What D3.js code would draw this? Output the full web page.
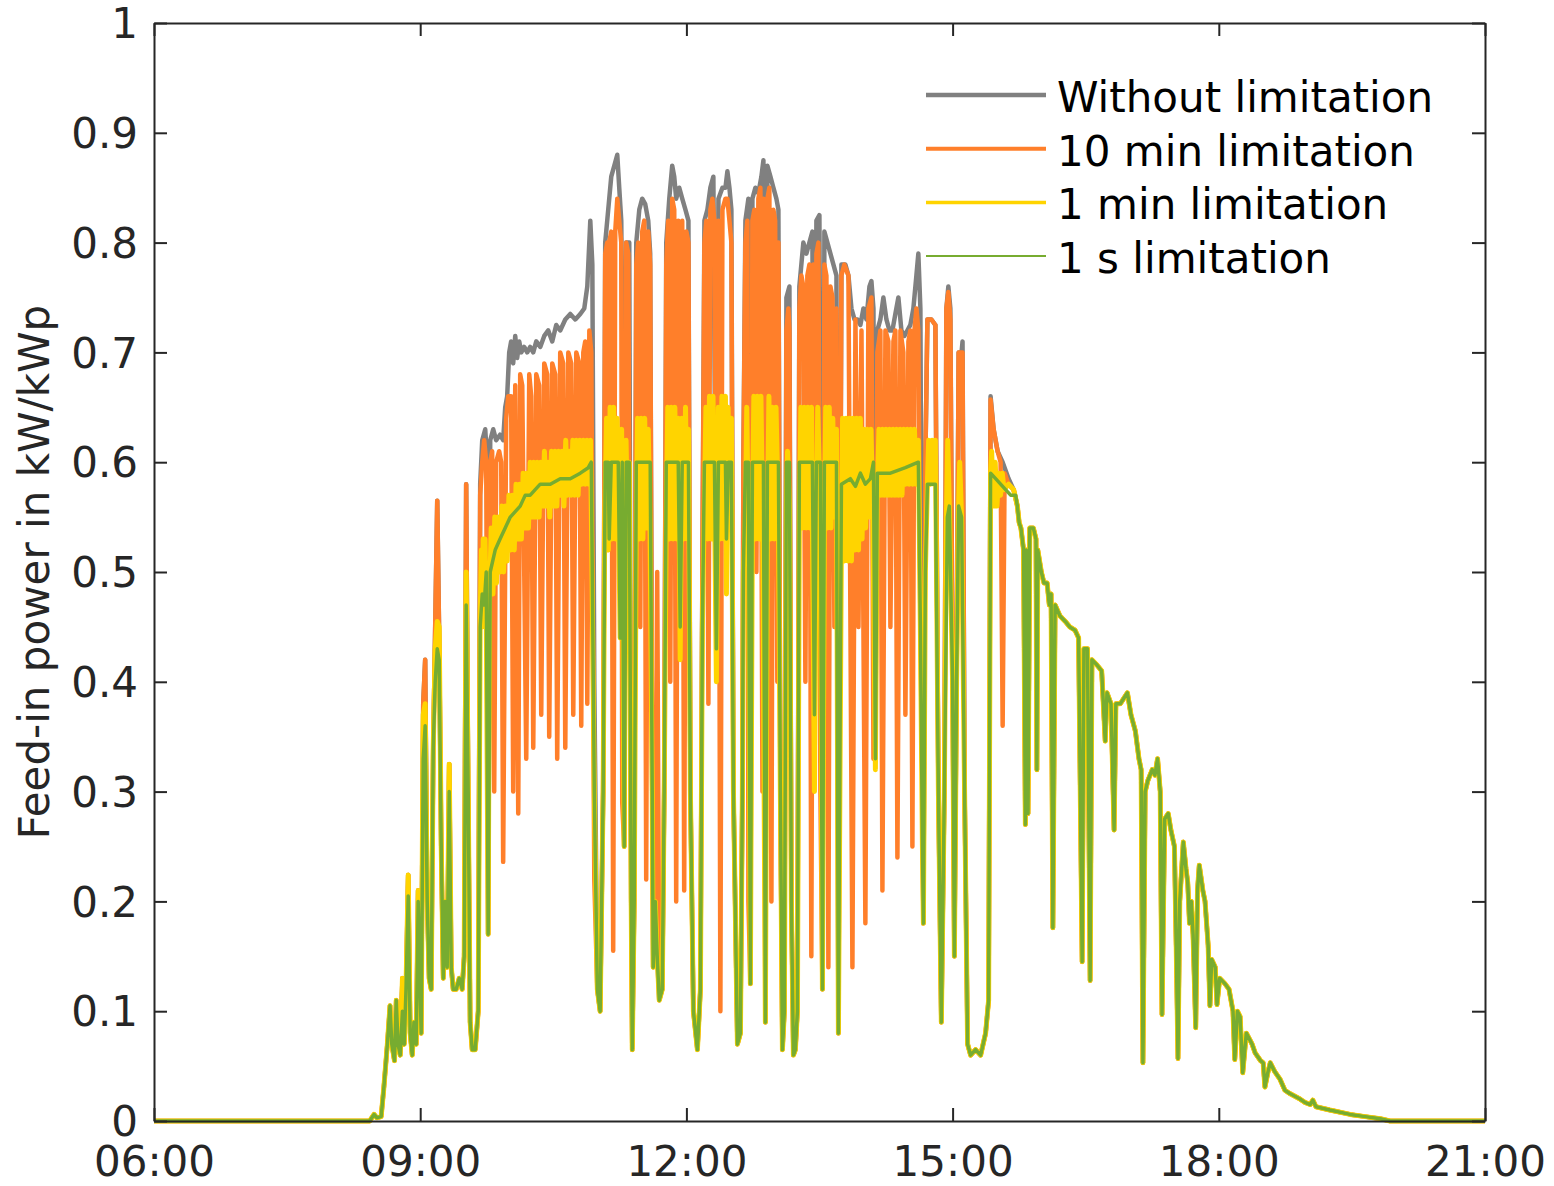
<!DOCTYPE html>
<html>
<head>
<meta charset="utf-8">
<script src="https://cdn.jsdelivr.net/npm/d3@7"></script>
<style>
  body { margin: 0; background: #fff; }
  svg { display: block; }
  text { font-family: "DejaVu Sans", Verdana, sans-serif; }
</style>
</head>
<body>
<svg id="chart" width="1554" height="1186"></svg>
<script>
// --- tick labels ---
const xTickHours = [6, 9, 12, 15, 18, 21];
const xTickLabels = ["06:00", "09:00", "12:00", "15:00", "18:00", "21:00"];
const yTickValues = [0, 0.1, 0.2, 0.3, 0.4, 0.5, 0.6, 0.7, 0.8, 0.9, 1];
const yTickLabels = ["0", "0.1", "0.2", "0.3", "0.4", "0.5", "0.6", "0.7", "0.8", "0.9", "1"];
const seriesNames = ["Without limitation", "10 min limitation", "1 min limitation", "1 s limitation"];

// --- readings [hour, kW/kWp] ---
// night / dawn, identical for all four curves
const dawn = [[6, 0], [8.43, 0], [8.48, 0.006], [8.51, 0.003], [8.56, 0.004]];

// morning ramp (without limitation and 10 min are the same here)
const morningUnlimited = [[8.59,0.03],[8.63,0.07],[8.66,0.105],[8.68,0.07],[8.71,0.055],[8.73,0.11],[8.75,0.07],[8.775,0.06],[8.80,0.13],[8.82,0.07],[8.84,0.12],[8.865,0.224],[8.887,0.08],[8.91,0.06],[8.93,0.09],[8.955,0.07],[8.977,0.21],[9.011,0.08],[9.034,0.38],[9.056,0.42],[9.079,0.2],[9.101,0.13],[9.124,0.12],[9.147,0.34],[9.169,0.45],[9.192,0.565],[9.214,0.44],[9.237,0.25],[9.26,0.13],[9.282,0.2],[9.304,0.14],[9.327,0.325],[9.35,0.14],[9.372,0.12],[9.406,0.12],[9.44,0.13],[9.473,0.12],[9.496,0.15],[9.518,0.58],[9.541,0.3],[9.563,0.09],[9.586,0.065],[9.62,0.065]];
const morningOneMin = [[8.59,0.03],[8.63,0.07],[8.66,0.105],[8.68,0.07],[8.71,0.055],[8.73,0.11],[8.75,0.07],[8.775,0.06],[8.80,0.13],[8.82,0.07],[8.84,0.12],[8.865,0.224],[8.887,0.08],[8.91,0.06],[8.93,0.09],[8.955,0.07],[8.977,0.21],[9.011,0.08],[9.034,0.37],[9.056,0.38],[9.079,0.2],[9.101,0.13],[9.124,0.12],[9.147,0.34],[9.169,0.43],[9.192,0.455],[9.214,0.45],[9.237,0.25],[9.26,0.13],[9.282,0.2],[9.304,0.14],[9.327,0.325],[9.35,0.14],[9.372,0.12],[9.406,0.12],[9.44,0.13],[9.473,0.12],[9.496,0.15],[9.518,0.5],[9.541,0.3],[9.563,0.09],[9.586,0.065],[9.62,0.065]];
const morningOneSec = [[8.59,0.03],[8.63,0.07],[8.66,0.105],[8.68,0.07],[8.71,0.055],[8.73,0.11],[8.75,0.07],[8.775,0.06],[8.80,0.1],[8.82,0.07],[8.84,0.12],[8.865,0.205],[8.887,0.08],[8.91,0.06],[8.93,0.09],[8.955,0.07],[8.977,0.2],[9.011,0.08],[9.034,0.33],[9.056,0.36],[9.079,0.2],[9.101,0.13],[9.124,0.12],[9.147,0.34],[9.169,0.4],[9.192,0.43],[9.214,0.42],[9.237,0.25],[9.26,0.13],[9.282,0.2],[9.304,0.14],[9.327,0.3],[9.35,0.14],[9.372,0.12],[9.406,0.12],[9.44,0.13],[9.473,0.12],[9.496,0.15],[9.518,0.47],[9.541,0.3],[9.563,0.09],[9.586,0.065],[9.62,0.065]];

// midday, without limitation
const middayWithout = [[9.654,0.1],[9.676,0.58],[9.699,0.62],[9.733,0.63],[9.755,0.6],[9.766,0.17],[9.789,0.62],[9.823,0.63],[9.856,0.62],[9.90,0.625],[9.935,0.62],[9.958,0.65],[9.98,0.66],[10.003,0.7],[10.025,0.71],[10.048,0.69],[10.071,0.715],[10.093,0.695],[10.116,0.71],[10.139,0.7],[10.172,0.705],[10.206,0.7],[10.24,0.705],[10.274,0.7],[10.308,0.71],[10.353,0.705],[10.398,0.715],[10.443,0.72],[10.488,0.71],[10.533,0.725],[10.578,0.72],[10.635,0.73],[10.691,0.735],[10.748,0.73],[10.804,0.735],[10.849,0.74],[10.883,0.76],[10.917,0.82],[10.94,0.78],[10.962,0.4],[10.996,0.12],[11.028,0.1],[11.062,0.3],
  [11.085,0.8],[11.119,0.83],[11.153,0.86],[11.187,0.87],[11.221,0.88],[11.243,0.85],[11.266,0.82],[11.288,0.6],[11.299,0.25],[11.322,0.8],[11.356,0.8],[11.378,0.2],[11.39,0.065],[11.412,0.2],[11.435,0.8],[11.469,0.83],[11.502,0.84],[11.536,0.835],[11.57,0.82],[11.592,0.79],[11.615,0.3],[11.626,0.14],[11.649,0.2],[11.671,0.15],[11.694,0.11],[11.728,0.12],[11.75,0.3],
  [11.773,0.8],[11.807,0.84],[11.84,0.87],[11.863,0.86],[11.885,0.84],[11.919,0.85],[11.953,0.84],[11.989,0.83],[12.023,0.82],[12.045,0.3],[12.079,0.1],[12.124,0.065],[12.158,0.12],[12.18,0.5],
  [12.203,0.82],[12.237,0.83],[12.27,0.85],[12.304,0.86],[12.338,0.43],[12.361,0.84],[12.406,0.85],[12.44,0.85],[12.462,0.865],[12.485,0.85],[12.507,0.83],[12.53,0.3],[12.575,0.07],[12.609,0.08],[12.631,0.3],[12.642,0.6],
  [12.665,0.82],[12.699,0.84],[12.721,0.125],[12.744,0.84],[12.778,0.85],[12.811,0.845],[12.845,0.86],[12.868,0.875],[12.89,0.09],[12.913,0.87],[12.947,0.86],[12.98,0.85],[13.014,0.84],[13.037,0.83],[13.059,0.3],[13.082,0.065],[13.104,0.1],
  [13.127,0.75],[13.161,0.76],[13.183,0.2],[13.206,0.06],[13.228,0.065],[13.251,0.1],
  [13.273,0.76],[13.318,0.8],[13.352,0.79],[13.386,0.8],[13.42,0.81],[13.443,0.37],[13.465,0.82],[13.499,0.825],[13.533,0.12],[13.555,0.81],[13.589,0.8],[13.623,0.79],[13.657,0.78],[13.691,0.77],[13.713,0.08],
  [13.747,0.78],[13.792,0.78],[13.826,0.77],[13.86,0.74],[13.894,0.73],[13.928,0.73],[13.961,0.725],[13.995,0.74],[14.029,0.73],[14.063,0.76],[14.085,0.765],[14.108,0.74],[14.13,0.33],[14.152,0.72],[14.186,0.73],[14.22,0.75],[14.254,0.73],[14.288,0.72],[14.322,0.72],[14.355,0.735],[14.389,0.75],[14.423,0.72],[14.457,0.715],[14.49,0.72],[14.524,0.725],[14.558,0.74],[14.592,0.77],[14.614,0.79],[14.637,0.74],[14.66,0.3],[14.671,0.18],[14.693,0.6],
  [14.716,0.73],[14.761,0.73],[14.806,0.725],[14.84,0.3],[14.873,0.09],[14.907,0.3],[14.93,0.74],[14.952,0.76],[14.975,0.74],[15.0,0.4],[15.02,0.15],[15.045,0.4],[15.068,0.7],[15.101,0.7],[15.112,0.71],[15.135,0.3],[15.169,0.07],[15.203,0.06],[15.259,0.065],[15.316,0.06],[15.372,0.08],[15.406,0.11],
  [15.428,0.66],[15.462,0.63],[15.507,0.61],[15.564,0.6],[15.631,0.585],[15.688,0.575]];

// midday, 10 min limitation
const middayTenMin = [[9.654,0.1],[9.676,0.57],[9.699,0.6],[9.721,0.62],[9.744,0.6],[9.766,0.17],[9.789,0.6],[9.811,0.61],[9.834,0.3],[9.856,0.6],[9.89,0.61],[9.913,0.6],[9.935,0.236],[9.969,0.64],[9.992,0.66],[10.025,0.66],[10.048,0.3],[10.071,0.67],[10.105,0.28],[10.127,0.68],[10.15,0.67],[10.195,0.33],[10.229,0.68],[10.251,0.66],[10.274,0.34],[10.308,0.68],[10.341,0.67],[10.364,0.37],[10.398,0.69],[10.432,0.68],[10.454,0.35],[10.488,0.69],[10.522,0.68],[10.544,0.33],[10.578,0.7],[10.612,0.69],[10.635,0.34],[10.669,0.7],[10.702,0.69],[10.725,0.37],[10.759,0.7],[10.793,0.69],[10.815,0.36],[10.838,0.7],[10.86,0.71],[10.883,0.38],[10.906,0.72],[10.928,0.7],[10.962,0.22],[10.996,0.12],[11.028,0.1],[11.062,0.3],
  [11.085,0.79],[11.108,0.8],[11.119,0.52],[11.13,0.8],[11.153,0.81],[11.175,0.155],[11.198,0.81],[11.221,0.84],[11.243,0.82],[11.266,0.8],[11.277,0.29],[11.299,0.25],[11.322,0.8],[11.345,0.79],[11.378,0.2],[11.39,0.065],[11.412,0.2],
  [11.435,0.78],[11.457,0.8],[11.48,0.45],[11.502,0.81],[11.525,0.82],[11.547,0.22],[11.57,0.81],[11.592,0.78],[11.615,0.3],[11.626,0.14],[11.649,0.2],[11.671,0.5],[11.694,0.11],[11.728,0.12],[11.75,0.3],
  [11.773,0.78],[11.795,0.82],[11.818,0.4],[11.84,0.84],[11.863,0.83],[11.885,0.2],[11.908,0.82],[11.93,0.45],[11.953,0.82],[11.975,0.21],[12.0,0.81],[12.023,0.8],[12.045,0.3],[12.079,0.1],[12.124,0.065],[12.158,0.12],[12.18,0.5],
  [12.203,0.8],[12.225,0.82],[12.248,0.38],[12.27,0.83],[12.293,0.84],[12.316,0.82],[12.338,0.43],[12.361,0.82],[12.383,0.1],[12.406,0.83],[12.44,0.84],[12.462,0.84],[12.485,0.82],[12.507,0.8],[12.53,0.3],[12.575,0.07],[12.609,0.08],[12.631,0.3],[12.642,0.6],
  [12.665,0.8],[12.687,0.82],[12.699,0.2],[12.721,0.125],[12.744,0.82],[12.766,0.83],[12.789,0.5],[12.811,0.84],[12.834,0.85],[12.857,0.3],[12.868,0.84],[12.89,0.09],[12.913,0.84],[12.935,0.85],[12.958,0.2],[12.98,0.83],[13.0,0.82],[13.025,0.4],[13.037,0.8],[13.059,0.3],[13.082,0.065],[13.104,0.1],
  [13.127,0.72],[13.149,0.74],[13.161,0.72],[13.183,0.2],[13.206,0.06],[13.228,0.065],[13.251,0.1],
  [13.273,0.74],[13.296,0.77],[13.318,0.76],[13.341,0.4],[13.363,0.77],[13.386,0.78],[13.408,0.15],[13.431,0.78],[13.443,0.37],[13.465,0.79],[13.488,0.8],[13.51,0.3],[13.533,0.12],[13.555,0.78],[13.578,0.77],[13.6,0.14],[13.623,0.76],[13.646,0.75],[13.668,0.45],[13.691,0.74],[13.713,0.08],
  [13.747,0.77],[13.78,0.78],[13.826,0.77],[13.871,0.14],[13.905,0.73],[13.939,0.45],[13.973,0.72],[14.017,0.18],[14.051,0.74],[14.085,0.75],[14.108,0.33],[14.13,0.33],[14.152,0.7],[14.186,0.72],[14.209,0.21],[14.243,0.72],[14.276,0.71],[14.299,0.45],[14.333,0.71],[14.355,0.72],[14.378,0.24],[14.412,0.72],[14.445,0.7],[14.468,0.37],[14.502,0.71],[14.524,0.72],[14.547,0.25],[14.57,0.72],[14.592,0.74],[14.614,0.72],[14.637,0.45],[14.66,0.3],[14.671,0.18],[14.693,0.6],
  [14.716,0.73],[14.761,0.73],[14.806,0.725],[14.84,0.3],[14.873,0.09],[14.907,0.3],[14.93,0.74],[14.952,0.755],[14.975,0.73],[15.0,0.4],[15.02,0.15],[15.045,0.4],[15.068,0.7],[15.101,0.7],[15.112,0.7],[15.135,0.3],[15.169,0.07],[15.203,0.06],[15.259,0.065],[15.316,0.06],[15.372,0.08],[15.406,0.11],
  [15.428,0.657],[15.462,0.63],[15.507,0.61],[15.541,0.6],[15.564,0.36],[15.586,0.59],[15.631,0.58],[15.688,0.575]];

// midday, 1 min limitation (fast oscillating band)
const middayOneMin = [[9.654,0.1],[9.676,0.46],[9.69,0.52],[9.70,0.45],[9.71,0.53],[9.72,0.46],[9.73,0.53],[9.744,0.47],[9.766,0.17],
  [9.78,0.47],[9.80,0.54],[9.82,0.48],[9.84,0.55],[9.86,0.49],[9.88,0.55],[9.90,0.5],[9.92,0.56],[9.94,0.5],[9.96,0.56],[9.98,0.51],[10.00,0.57],[10.02,0.52],[10.04,0.57],[10.06,0.52],[10.08,0.58],[10.10,0.53],[10.12,0.58],[10.14,0.53],[10.16,0.59],[10.18,0.54],[10.20,0.59],[10.22,0.54],[10.24,0.6],[10.26,0.55],[10.28,0.6],[10.30,0.55],[10.32,0.6],[10.34,0.55],[10.36,0.6],[10.38,0.56],[10.40,0.61],[10.42,0.56],[10.44,0.6],[10.46,0.55],[10.48,0.61],[10.50,0.56],[10.52,0.61],[10.54,0.56],[10.56,0.61],[10.58,0.57],[10.60,0.61],[10.62,0.56],[10.64,0.62],[10.66,0.57],[10.68,0.61],[10.70,0.57],[10.72,0.62],[10.74,0.57],[10.76,0.62],[10.78,0.57],[10.80,0.62],[10.82,0.58],[10.84,0.62],[10.86,0.58],[10.88,0.62],[10.90,0.58],[10.92,0.62],
  [10.962,0.3],[10.996,0.12],[11.028,0.1],[11.062,0.3],
  [11.08,0.55],[11.10,0.64],[11.12,0.52],[11.14,0.65],[11.16,0.53],[11.18,0.65],[11.20,0.53],[11.22,0.64],[11.24,0.52],[11.254,0.44],[11.27,0.63],[11.299,0.25],[11.32,0.62],[11.34,0.53],[11.356,0.6],
  [11.378,0.2],[11.39,0.065],[11.412,0.2],
  [11.435,0.55],[11.45,0.64],[11.47,0.53],[11.49,0.64],[11.51,0.53],[11.53,0.64],[11.55,0.54],[11.57,0.63],[11.59,0.54],
  [11.615,0.3],[11.626,0.14],[11.649,0.2],[11.671,0.15],[11.694,0.11],[11.728,0.12],[11.75,0.3],
  [11.773,0.55],[11.79,0.65],[11.81,0.53],[11.83,0.65],[11.85,0.53],[11.87,0.65],[11.89,0.53],[11.91,0.64],[11.93,0.42],[11.95,0.64],[11.97,0.53],[11.99,0.65],[12.01,0.53],[12.023,0.63],
  [12.045,0.3],[12.079,0.1],[12.124,0.065],[12.158,0.12],[12.18,0.45],
  [12.20,0.55],[12.22,0.65],[12.24,0.53],[12.26,0.66],[12.28,0.53],[12.30,0.66],[12.32,0.54],[12.338,0.4],[12.36,0.65],[12.38,0.53],[12.40,0.66],[12.42,0.53],[12.44,0.66],[12.451,0.48],[12.47,0.65],[12.49,0.54],[12.507,0.64],
  [12.53,0.3],[12.575,0.07],[12.609,0.08],[12.631,0.3],[12.642,0.5],
  [12.665,0.55],[12.68,0.65],[12.70,0.53],[12.721,0.125],[12.744,0.55],[12.76,0.66],[12.78,0.53],[12.80,0.66],[12.82,0.53],[12.84,0.66],[12.86,0.54],[12.89,0.09],[12.913,0.55],[12.93,0.66],[12.95,0.53],[12.97,0.65],[12.99,0.53],[13.01,0.65],[13.037,0.55],
  [13.059,0.3],[13.082,0.065],[13.104,0.1],
  [13.127,0.56],[13.14,0.61],[13.161,0.56],
  [13.183,0.2],[13.206,0.06],[13.228,0.065],[13.251,0.1],
  [13.273,0.55],[13.29,0.65],[13.31,0.54],[13.33,0.65],[13.35,0.54],[13.37,0.65],[13.39,0.54],[13.41,0.65],[13.443,0.3],[13.465,0.55],[13.48,0.65],[13.51,0.55],[13.533,0.12],[13.555,0.55],[13.57,0.65],[13.59,0.54],[13.61,0.65],[13.63,0.54],[13.65,0.64],[13.67,0.55],[13.691,0.63],
  [13.713,0.08],
  [13.747,0.53],[13.76,0.64],[13.78,0.51],[13.80,0.64],[13.82,0.51],[13.84,0.64],[13.86,0.51],[13.88,0.64],[13.90,0.52],[13.92,0.64],[13.94,0.52],[13.96,0.64],[13.98,0.53],[14.00,0.63],[14.02,0.54],[14.04,0.63],[14.06,0.55],[14.08,0.63],[14.10,0.56],[14.13,0.32],[14.15,0.57],[14.17,0.63],[14.19,0.57],[14.21,0.63],[14.23,0.57],[14.25,0.63],[14.27,0.57],[14.29,0.63],[14.31,0.57],[14.33,0.63],[14.35,0.57],[14.37,0.63],[14.39,0.57],[14.41,0.63],[14.43,0.57],[14.45,0.63],[14.47,0.58],[14.49,0.63],[14.51,0.58],[14.53,0.63],[14.55,0.58],[14.57,0.63],[14.59,0.58],[14.614,0.62],
  [14.637,0.45],[14.66,0.25],[14.671,0.18],[14.693,0.5],
  [14.716,0.58],[14.73,0.62],[14.75,0.58],[14.77,0.62],[14.79,0.58],[14.806,0.62],
  [14.84,0.3],[14.873,0.09],[14.907,0.3],
  [14.93,0.55],[14.945,0.62],[14.963,0.56],
  [15.0,0.4],[15.02,0.15],[15.045,0.4],
  [15.068,0.56],[15.08,0.6],[15.101,0.55],
  [15.135,0.3],[15.169,0.07],[15.203,0.06],[15.259,0.065],[15.316,0.06],[15.372,0.08],[15.406,0.11],
  [15.428,0.59],[15.44,0.61],[15.46,0.56],[15.48,0.6],[15.50,0.56],[15.52,0.59],[15.54,0.57],[15.56,0.59],[15.58,0.575],[15.631,0.58],[15.688,0.575]];

// midday, 1 s limitation
const middayOneSec = [[9.654,0.1],[9.676,0.45],[9.699,0.48],[9.721,0.47],[9.744,0.5],[9.766,0.17],[9.789,0.5],[9.845,0.52],[9.90,0.53],[9.958,0.54],[10.015,0.55],[10.071,0.555],[10.127,0.56],[10.184,0.57],[10.24,0.57],[10.296,0.575],[10.353,0.58],[10.466,0.58],[10.578,0.585],[10.691,0.585],[10.804,0.59],[10.894,0.595],[10.928,0.6],[10.962,0.3],[10.996,0.12],[11.028,0.1],[11.062,0.3],
  [11.085,0.6],[11.119,0.6],[11.13,0.53],[11.153,0.6],[11.232,0.6],[11.254,0.44],[11.277,0.6],[11.299,0.25],[11.322,0.6],[11.356,0.6],[11.378,0.2],[11.39,0.065],[11.412,0.2],
  [11.435,0.6],[11.592,0.6],[11.615,0.3],[11.626,0.14],[11.649,0.2],[11.671,0.15],[11.694,0.11],[11.728,0.12],[11.75,0.3],
  [11.773,0.6],[11.908,0.6],[11.93,0.45],[11.953,0.6],[12.023,0.6],[12.045,0.3],[12.079,0.1],[12.124,0.065],[12.158,0.12],[12.18,0.45],
  [12.203,0.6],[12.316,0.6],[12.338,0.43],[12.361,0.6],[12.44,0.6],[12.451,0.53],[12.473,0.6],[12.507,0.6],[12.53,0.3],[12.575,0.07],[12.609,0.08],[12.631,0.3],[12.642,0.5],
  [12.665,0.6],[12.699,0.6],[12.721,0.125],[12.744,0.6],[12.868,0.6],[12.89,0.09],[12.913,0.6],[13.037,0.6],[13.059,0.3],[13.082,0.065],[13.104,0.1],
  [13.127,0.6],[13.161,0.6],[13.183,0.2],[13.206,0.06],[13.228,0.065],[13.251,0.1],
  [13.273,0.6],[13.42,0.6],[13.443,0.37],[13.465,0.6],[13.51,0.6],[13.533,0.12],[13.555,0.6],[13.691,0.6],[13.713,0.08],
  [13.747,0.58],[13.848,0.585],[13.905,0.578],[13.961,0.59],[14.017,0.58],[14.074,0.585],[14.108,0.6],[14.13,0.33],[14.152,0.59],[14.299,0.59],[14.468,0.595],[14.614,0.6],[14.637,0.45],[14.66,0.25],[14.671,0.18],[14.693,0.5],
  [14.716,0.58],[14.806,0.58],[14.84,0.3],[14.873,0.09],[14.907,0.3],[14.941,0.55],[14.963,0.56],[15.0,0.4],[15.02,0.15],[15.045,0.4],[15.068,0.56],[15.101,0.55],[15.135,0.3],[15.169,0.07],[15.203,0.06],[15.259,0.065],[15.316,0.06],[15.372,0.08],[15.406,0.11],
  [15.428,0.59],[15.485,0.585],[15.541,0.58],[15.597,0.575],[15.654,0.57],[15.71,0.57]];

// afternoon decline, identical for all four curves
const dusk = [[15.73,0.56],[15.75,0.545],[15.77,0.54],[15.80,0.52],[15.82,0.27],[15.83,0.52],[15.85,0.28],[15.87,0.54],[15.91,0.54],[15.94,0.53],[15.95,0.32],[15.96,0.52],[16.0,0.5],[16.03,0.49],[16.065,0.49],[16.09,0.47],[16.11,0.48],[16.13,0.176],[16.155,0.47],[16.21,0.46],[16.27,0.455],[16.32,0.45],[16.38,0.447],[16.42,0.44],[16.46,0.145],[16.48,0.43],[16.52,0.43],[16.55,0.128],[16.57,0.42],[16.63,0.415],[16.68,0.41],[16.72,0.346],[16.74,0.39],[16.785,0.38],[16.82,0.265],[16.84,0.38],[16.89,0.38],[16.93,0.385],[16.97,0.39],[17.01,0.37],[17.06,0.355],[17.10,0.33],[17.125,0.32],[17.145,0.053],[17.17,0.3],[17.20,0.31],[17.25,0.32],[17.28,0.315],[17.31,0.33],[17.34,0.3],[17.36,0.097],[17.39,0.275],[17.43,0.28],[17.46,0.265],[17.50,0.25],[17.52,0.16],[17.54,0.057],[17.56,0.2],[17.60,0.254],[17.63,0.23],[17.65,0.217],[17.67,0.18],[17.69,0.2],[17.71,0.17],[17.74,0.085],[17.76,0.21],[17.78,0.233],[17.82,0.21],[17.845,0.2],[17.88,0.16],[17.90,0.105],[17.92,0.147],[17.96,0.14],[17.98,0.106],[18.01,0.13],[18.07,0.125],[18.115,0.12],[18.16,0.1],[18.18,0.056],[18.21,0.1],[18.24,0.095],[18.27,0.044],[18.31,0.08],[18.375,0.07],[18.41,0.062],[18.47,0.055],[18.50,0.053],[18.52,0.031],[18.555,0.045],[18.58,0.053],[18.63,0.045],[18.69,0.038],[18.745,0.028],[18.80,0.025],[18.915,0.02],[18.97,0.017],[19.03,0.015],[19.06,0.019],[19.095,0.013],[19.25,0.01],[19.48,0.006],[19.65,0.004],[19.82,0.002],[19.93,0],[21,0]];

const seriesData = [
  dawn.concat(morningUnlimited, middayWithout, dusk),
  dawn.concat(morningUnlimited, middayTenMin, dusk),
  dawn.concat(morningOneMin, middayOneMin, dusk),
  dawn.concat(morningOneSec, middayOneSec, dusk),
];
const seriesColors = ["#808080", "#FF7F2A", "#FFD400", "#77AC30"];
const seriesWidths = [4.5, 4.5, 5, 3.5];
const legendWidths = [4.5, 4, 3.5, 2];

// --- chart ---
const svg = d3.select("#chart");
const plotLeft = 154, plotRight = 1485, plotTop = 23, plotBottom = 1121;

const x = d3.scaleLinear().domain([6, 21]).range([plotLeft, plotRight]);
const y = d3.scaleLinear().domain([0, 1]).range([plotBottom, plotTop]);

const line = d3.line()
  .x((d) => x(d[0]))
  .y((d) => y(d[1]));

const lines = svg.append("g");
seriesData.forEach((data, i) => {
  lines.append("path")
    .datum(data)
    .attr("fill", "none")
    .attr("stroke", seriesColors[i])
    .attr("stroke-width", seriesWidths[i])
    .attr("stroke-linejoin", "round")
    .attr("d", line);
});

// axes box with inward ticks
const axisColor = "#262626";
const fontSize = 42;

const gx = svg.append("g")
  .attr("transform", `translate(0,${plotBottom})`)
  .call(d3.axisBottom(x).tickValues(xTickHours)
    .tickFormat((d, i) => xTickLabels[i])
    .tickSizeInner(-13).tickSizeOuter(0).tickPadding(25));
const gxTop = svg.append("g")
  .attr("transform", `translate(0,${plotTop})`)
  .call(d3.axisTop(x).tickValues(xTickHours).tickFormat("")
    .tickSizeInner(-13).tickSizeOuter(0));
const gy = svg.append("g")
  .attr("transform", `translate(${plotLeft},0)`)
  .call(d3.axisLeft(y).tickValues(yTickValues)
    .tickFormat((d, i) => yTickLabels[i])
    .tickSizeInner(-13).tickSizeOuter(0).tickPadding(16));
const gyRight = svg.append("g")
  .attr("transform", `translate(${plotRight},0)`)
  .call(d3.axisRight(y).tickValues(yTickValues).tickFormat("")
    .tickSizeInner(-13).tickSizeOuter(0));

[gx, gxTop, gy, gyRight].forEach((g) => {
  g.select(".domain").attr("stroke", axisColor).attr("stroke-width", 2);
  g.selectAll(".tick line").attr("stroke", axisColor).attr("stroke-width", 2);
  g.selectAll(".tick text")
    .attr("fill", axisColor)
    .style("font-family", '"DejaVu Sans", Verdana, sans-serif')
    .style("font-size", fontSize + "px");
});
gy.selectAll(".tick text").attr("dy", "0.35em");

svg.append("text")
  .attr("transform", `translate(49,${(plotTop + plotBottom) / 2}) rotate(-90)`)
  .attr("text-anchor", "middle")
  .attr("fill", axisColor)
  .style("font-size", fontSize + "px")
  .text("Feed-in power in kW/kWp");

// legend
const legend = svg.append("g").attr("transform", "translate(926,95)");
seriesNames.forEach((name, i) => {
  const row = legend.append("g").attr("transform", `translate(0,${i * 53.7})`);
  row.append("line")
    .attr("x1", 0).attr("x2", 120)
    .attr("stroke", seriesColors[i])
    .attr("stroke-width", legendWidths[i]);
  row.append("text")
    .attr("x", 131)
    .attr("y", 17)
    .attr("fill", "#000")
    .style("font-size", fontSize + "px")
    .text(name);
});
</script>
</body>
</html>
